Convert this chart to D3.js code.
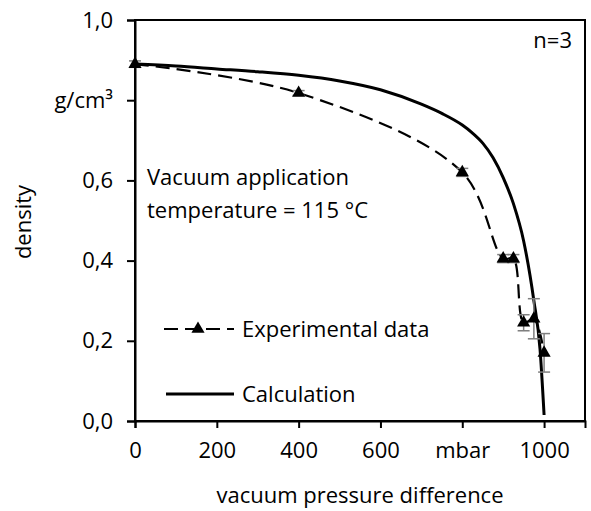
<!DOCTYPE html>
<html>
<head>
<meta charset="utf-8">
<script src="https://cdn.jsdelivr.net/npm/d3@7"></script>
<style>
  body { margin: 0; background: #fff; }
  svg text { font-family: "Open Sans", sans-serif; fill: #000; }
</style>
</head>
<body>
<div id="chart"></div>
<script>
// données
var expPressure = [0, 400, 800, 900, 925, 950, 975, 1000];
var expDensity  = [0.89, 0.818, 0.62, 0.405, 0.405, 0.245, 0.255, 0.17];
var expError    = [0.008, 0.006, 0.01, 0.01, 0.01, 0.02, 0.05, 0.048];

var calcPressure = [0, 100, 200, 300, 400, 500, 600, 700, 750, 800, 825, 850, 875, 900, 925, 950, 975, 990, 1000];
var calcDensity  = [0.89, 0.885, 0.878, 0.871, 0.862, 0.848, 0.826, 0.79, 0.767, 0.738, 0.718, 0.693, 0.657, 0.607, 0.542, 0.449, 0.30, 0.18, 0.015];

var xTicks = [0, 200, 400, 600, 800, 1000];
var xTickLabels = ["0", "200", "400", "600", "mbar", "1000"];
var yTicks = [0, 0.2, 0.4, 0.6, 0.8, 1.0];
var yTickLabels = ["0,0", "0,2", "0,4", "0,6", "g/cm³", "1,0"];

var width = 591,
    height = 511;

// zone du graphique (attention: "top" est réservé dans window)
var pLeft = 135, pRight = 585, pTop = 20, pBottom = 421;
var fs = "22px";

var svg = d3.select("#chart")
    .append("svg")
    .attr("width", width)
    .attr("height", height);

var x = d3.scaleLinear().domain([0, 1100]).range([pLeft, pRight]);
var y = d3.scaleLinear().domain([0, 1]).range([pBottom, pTop]);

// cadre
svg.append("rect")
    .attr("x", pLeft).attr("y", pTop)
    .attr("width", pRight - pLeft).attr("height", pBottom - pTop)
    .attr("fill", "none").attr("stroke", "#000").attr("stroke-width", 2);

// axes
var xAxis = d3.axisBottom(x)
    .tickValues(xTicks)
    .tickSize(7)
    .tickPadding(14)
    .tickFormat(function (d, i) { return xTickLabels[i]; });

var yAxis = d3.axisLeft(y)
    .tickValues(yTicks)
    .tickSize(8)
    .tickPadding(14)
    .tickFormat(function (d, i) { return yTickLabels[i]; });

var gx = svg.append("g").attr("transform", "translate(0," + pBottom + ")").call(xAxis);
var gy = svg.append("g").attr("transform", "translate(" + pLeft + ",0)").call(yAxis);

[gx, gy].forEach(function (g) {
    g.select(".domain").attr("stroke-width", 2);
    g.selectAll(".tick line").attr("stroke-width", 2);
    g.selectAll("text").style("font-size", fs).style("font-family", "Open Sans, sans-serif");
});

// titres des axes
svg.append("text")
    .attr("x", 360)
    .attr("y", 503)
    .attr("text-anchor", "middle")
    .style("font-size", fs)
    .text("vacuum pressure difference");

svg.append("text")
    .attr("transform", "translate(31,222) rotate(-90)")
    .attr("text-anchor", "middle")
    .style("font-size", fs)
    .text("density");

// courbe calculée
var calcLine = d3.line()
    .x(function (d, i) { return x(calcPressure[i]); })
    .y(function (d) { return y(d); })
    .curve(d3.curveMonotoneX);

svg.append("path")
    .datum(calcDensity)
    .attr("d", calcLine)
    .attr("fill", "none")
    .attr("stroke", "#000")
    .attr("stroke-width", 3);

// courbe expérimentale
var expLine = d3.line()
    .x(function (d, i) { return x(expPressure[i]); })
    .y(function (d) { return y(d); })
    .curve(d3.curveCatmullRom);

svg.append("path")
    .datum(expDensity)
    .attr("d", expLine)
    .attr("fill", "none")
    .attr("stroke", "#000")
    .attr("stroke-width", 2.2)
    .attr("stroke-dasharray", "14,7");

// barres d'erreur
var errG = svg.append("g").attr("stroke", "#7f7f7f").attr("stroke-width", 1.5);
expDensity.forEach(function (d, i) {
    var cx = x(expPressure[i]);
    errG.append("line")
        .attr("x1", cx).attr("x2", cx)
        .attr("y1", y(d - expError[i])).attr("y2", y(d + expError[i]));
    [d - expError[i], d + expError[i]].forEach(function (v) {
        errG.append("line")
            .attr("x1", cx - 6).attr("x2", cx + 6)
            .attr("y1", y(v)).attr("y2", y(v));
    });
});

// triangles
var tri = d3.symbol().type(d3.symbolTriangle).size(75);
svg.append("g").selectAll("path")
    .data(expDensity)
    .join("path")
    .attr("d", tri)
    .attr("transform", function (d, i) { return "translate(" + x(expPressure[i]) + "," + y(d) + ")"; })
    .attr("fill", "#000");

// légende
var leg = svg.append("g");
leg.append("line")
    .attr("x1", 164).attr("x2", 234).attr("y1", 329).attr("y2", 329)
    .attr("stroke", "#000").attr("stroke-width", 2.2).attr("stroke-dasharray", "14,7");
leg.append("path").attr("d", tri).attr("transform", "translate(198,329)");
leg.append("text").attr("x", 242).attr("y", 337).style("font-size", fs).text("Experimental data");

leg.append("line")
    .attr("x1", 166).attr("x2", 234).attr("y1", 394).attr("y2", 394)
    .attr("stroke", "#000").attr("stroke-width", 3);
leg.append("text").attr("x", 242).attr("y", 402).style("font-size", fs).text("Calculation");

// annotations
svg.append("text").attr("x", 147).attr("y", 185).style("font-size", fs).text("Vacuum application");
svg.append("text").attr("x", 147).attr("y", 218).style("font-size", fs).text("temperature = 115 °C");
svg.append("text").attr("x", 572).attr("y", 48).attr("text-anchor", "end").style("font-size", fs).text("n=3");
</script>
</body>
</html>
